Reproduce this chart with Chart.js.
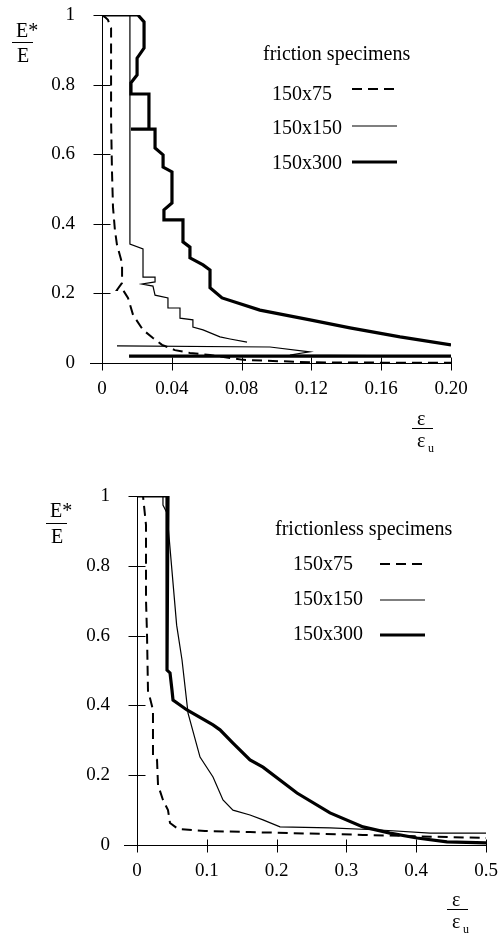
<!DOCTYPE html>
<html>
<head>
<meta charset="utf-8">
<script src="https://cdn.jsdelivr.net/npm/chart.js@4"></script>
<style>
  body { margin: 0; background: #fff; }
  canvas { position: absolute; left: 0; }
  #top-chart { top: 0; }
  #bottom-chart { top: 467px; }
</style>
</head>
<body>
<canvas id="top-chart" width="502" height="467"></canvas>
<canvas id="bottom-chart" width="502" height="468"></canvas>
<script>
// tick labels
const yVals = [0, 0.2, 0.4, 0.6, 0.8, 1];
const yTicks = ['0', '0.2', '0.4', '0.6', '0.8', '1'];
const topXVals = [0, 0.04, 0.08, 0.12, 0.16, 0.2];
const topXTicks = ['0', '0.04', '0.08', '0.12', '0.16', '0.20'];
const botXVals = [0, 0.1, 0.2, 0.3, 0.4, 0.5];
const botXTicks = ['0', '0.1', '0.2', '0.3', '0.4', '0.5'];
const seriesNames = ['150x75', '150x150', '150x300'];

// friction specimens (null = break in the line)
const fr75x = [0, 0.0017, 0.0034, 0.0052, 0.0052, 0.0057, 0.0063, 0.0074, 0.0086, 0.0115, 0.0115, 0.0086, 0.012, 0.0149, 0.0178, 0.0235, 0.0292, 0.0344, 0.0418, 0.0504, 0.0619, 0.0808, 0.119, 0.16, 0.2];
const fr75y = [1, 0.994, 0.986, 0.963, 0.70, 0.555, 0.448, 0.382, 0.339, 0.287, 0.23, 0.21, 0.21, 0.187, 0.138, 0.095, 0.072, 0.052, 0.037, 0.029, 0.023, 0.009, 0.002, 0.001, 0.001];

const fr150x = [0, 0.016, 0.016, 0.0235, 0.0235, 0.0304, 0.0304, 0.0229, 0.0292, 0.0304, 0.0378, 0.0378, 0.0447, 0.0447, 0.0521, 0.0521, 0.0579, 0.0676, 0.0734, 0.0831, 0.0831, 0.0086, 0.0963, 0.119, 0.1077, 0.2];
const fr150y = [1, 1, 0.342, 0.328, 0.247, 0.247, 0.233, 0.227, 0.221, 0.195, 0.187, 0.158, 0.158, 0.129, 0.124, 0.103, 0.095, 0.075, 0.069, 0.060, null, 0.049, 0.046, 0.032, 0.023, 0.02];

const fr300x = [0, 0.0206, 0.0241, 0.0241, 0.0201, 0.0201, 0.0166, 0.0166, 0.0269, 0.0269, 0.0166, 0.0304, 0.0304, 0.035, 0.035, 0.0401, 0.0401, 0.0355, 0.0355, 0.0464, 0.0464, 0.0504, 0.0504, 0.0579, 0.0619, 0.0619, 0.0688, 0.0905, 0.1192, 0.1421, 0.1708, 0.2, 0.2, 0.0155, 0.2];
const fr300y = [1, 1, 0.98, 0.905, 0.876, 0.828, 0.805, 0.773, 0.773, 0.672, 0.672, 0.672, 0.618, 0.598, 0.563, 0.549, 0.46, 0.44, 0.411, 0.411, 0.348, 0.333, 0.302, 0.282, 0.267, 0.216, 0.187, 0.152, 0.124, 0.101, 0.075, 0.052, null, 0.02, 0.02];

// frictionless specimens
const fl75x = [0, 0.0086, 0.0129, 0.0129, 0.0143, 0.0158, 0.0186, 0.0229, 0.0229, 0.0287, 0.0301, 0.0372, 0.0444, 0.0473, 0.0587, 0.0974, 0.1619, 0.3238, 0.5];
const fl75y = [1, 1, 0.917, 0.702, 0.607, 0.436, 0.421, 0.387, 0.252, 0.244, 0.172, 0.129, 0.1, 0.063, 0.046, 0.04, 0.037, 0.029, 0.02];

const fl150x = [0, 0.0372, 0.0372, 0.043, 0.0568, 0.0645, 0.0731, 0.0903, 0.1089, 0.1232, 0.1375, 0.1619, 0.1805, 0.2049, 0.2765, 0.3481, 0.4198, 0.5];
const fl150y = [1, 1, 0.974, 0.951, 0.63, 0.53, 0.378, 0.252, 0.195, 0.129, 0.1, 0.086, 0.072, 0.052, 0.049, 0.043, 0.034, 0.034];

const fl300x = [0, 0.0444, 0.043, 0.0473, 0.0501, 0.0516, 0.0716, 0.1089, 0.1189, 0.1375, 0.1619, 0.1805, 0.2292, 0.2765, 0.3238, 0.3625, 0.4011, 0.4441, 0.5];
const fl300y = [1, 1, 0.501, 0.493, 0.444, 0.415, 0.387, 0.344, 0.33, 0.292, 0.244, 0.223, 0.149, 0.092, 0.052, 0.034, 0.02, 0.009, 0.006];

const SERIF = '"Liberation Serif", "Times New Roman", serif';
const styles = [
  { borderWidth: 2, borderDash: [10, 6] },
  { borderWidth: 1.2, borderDash: [] },
  { borderWidth: 3.2, borderDash: [] }
];

function pts(xs, ys) {
  return xs.map((x, i) => ({ x: x, y: ys[i] }));
}

function line(ctx, x1, y1, x2, y2) {
  ctx.beginPath();
  ctx.moveTo(x1, y1);
  ctx.lineTo(x2, y2);
  ctx.stroke();
}

// axes with crossing ticks, in-plot legend and the fraction labels
const decorations = {
  id: 'decorations',
  afterDatasetsDraw(chart, args, o) {
    const ctx = chart.ctx;
    const xs = chart.scales.x, ys = chart.scales.y;
    const x0 = Math.round(xs.getPixelForValue(0)) + 0.5;
    const y0 = Math.round(ys.getPixelForValue(0)) + 0.5;
    ctx.save();
    ctx.strokeStyle = '#000';
    ctx.fillStyle = '#000';
    ctx.lineWidth = 1;
    ctx.setLineDash([]);
    line(ctx, x0, ys.getPixelForValue(1), x0, y0 + 5);
    line(ctx, o.axisFrom, y0, xs.right, y0);
    yVals.forEach(v => {
      const p = Math.round(ys.getPixelForValue(v)) + 0.5;
      line(ctx, x0 - 9, p, x0 + 8, p);
    });
    o.xVals.forEach(v => {
      const p = Math.round(xs.getPixelForValue(v)) + 0.5;
      line(ctx, p, y0 - 6, p, y0 + 7);
    });

    // legend
    const lg = o.legend;
    ctx.font = '20px ' + SERIF;
    ctx.textBaseline = 'alphabetic';
    ctx.textAlign = 'left';
    ctx.fillText(lg.title, lg.titleX, lg.titleY);
    seriesNames.forEach((name, i) => {
      ctx.fillText(name, lg.itemX, lg.textY[i]);
      ctx.lineWidth = styles[i].borderWidth;
      ctx.setLineDash(styles[i].borderDash);
      line(ctx, lg.lineX1, lg.lineY[i], lg.lineX2, lg.lineY[i]);
    });
    ctx.setLineDash([]);
    ctx.lineWidth = 1;

    // E*/E
    const e = o.eLabel;
    ctx.fillText('E*', e.x, e.y1);
    line(ctx, e.x - 4, e.ly, e.x + 17, e.ly);
    ctx.fillText('E', e.x + 1, e.y2);

    // eps / eps_u
    const f = o.epsLabel;
    ctx.fillText('\u03b5', f.x + 5, f.ly - 4);
    line(ctx, f.x, f.ly, f.x + 21, f.ly);
    ctx.fillText('\u03b5', f.x + 5, f.ly + 18);
    ctx.font = '12px ' + SERIF;
    ctx.fillText('u', f.x + 16, f.ly + 23);
    ctx.restore();
  }
};

function makeChart(id, sets, xMax, xVals, xTicks, yWidth, padding, deco) {
  return new Chart(document.getElementById(id), {
    type: 'scatter',
    data: {
      datasets: sets.map((s, i) => ({
        label: seriesNames[i],
        data: pts(s[0], s[1]),
        showLine: true,
        borderColor: '#000',
        backgroundColor: '#000',
        borderWidth: styles[i].borderWidth,
        borderDash: styles[i].borderDash,
        pointRadius: 0,
        tension: 0,
        spanGaps: false
      }))
    },
    options: {
      responsive: false,
      animation: false,
      devicePixelRatio: 1,
      layout: { padding: padding },
      plugins: {
        legend: { display: false },
        tooltip: { enabled: false },
        decorations: deco
      },
      scales: {
        x: {
          type: 'linear',
          min: 0,
          max: xMax,
          afterBuildTicks: s => { s.ticks = xVals.map(v => ({ value: v })); },
          afterFit: s => { s.height = 60; s.paddingLeft = 0; s.paddingRight = 0; },
          grid: { display: false, drawTicks: false },
          border: { display: false },
          ticks: {
            callback: (v, i) => xTicks[i],
            font: { family: SERIF, size: 19 },
            color: '#000',
            padding: 15,
            maxRotation: 0,
            autoSkip: false
          }
        },
        y: {
          type: 'linear',
          min: 0,
          max: 1,
          afterBuildTicks: s => { s.ticks = yVals.map(v => ({ value: v })); },
          afterFit: s => { s.width = yWidth; s.paddingTop = 0; s.paddingBottom = 0; },
          grid: { display: false, drawTicks: false },
          border: { display: false },
          ticks: {
            callback: (v, i) => yTicks[i],
            font: { family: SERIF, size: 19 },
            color: '#000',
            padding: 27
          }
        }
      }
    },
    plugins: [decorations]
  });
}

makeChart('top-chart',
  [[fr75x, fr75y], [fr150x, fr150y], [fr300x, fr300y]],
  0.2, topXVals, topXTicks, 102,
  { left: 0, right: 51, top: 15, bottom: 44 },
  {
    axisFrom: 90,
    xVals: topXVals,
    legend: {
      title: 'friction specimens', titleX: 263, titleY: 60,
      itemX: 272, textY: [100, 134, 169],
      lineX1: 352, lineX2: 397, lineY: [89, 126, 162]
    },
    eLabel: { x: 16, y1: 37, ly: 42.5, y2: 62 },
    epsLabel: { x: 412, ly: 428.5 }
  });

makeChart('bottom-chart',
  [[fl75x, fl75y], [fl150x, fl150y], [fl300x, fl300y]],
  0.5, botXVals, botXTicks, 137,
  { left: 0, right: 16, top: 29, bottom: 30 },
  {
    axisFrom: 124,
    xVals: botXVals,
    legend: {
      title: 'frictionless specimens', titleX: 275, titleY: 68,
      itemX: 293, textY: [103, 138, 173],
      lineX1: 380, lineX2: 425, lineY: [97, 133, 168]
    },
    eLabel: { x: 50, y1: 50, ly: 56.5, y2: 76 },
    epsLabel: { x: 447, ly: 442.5 }
  });
</script>
</body>
</html>
